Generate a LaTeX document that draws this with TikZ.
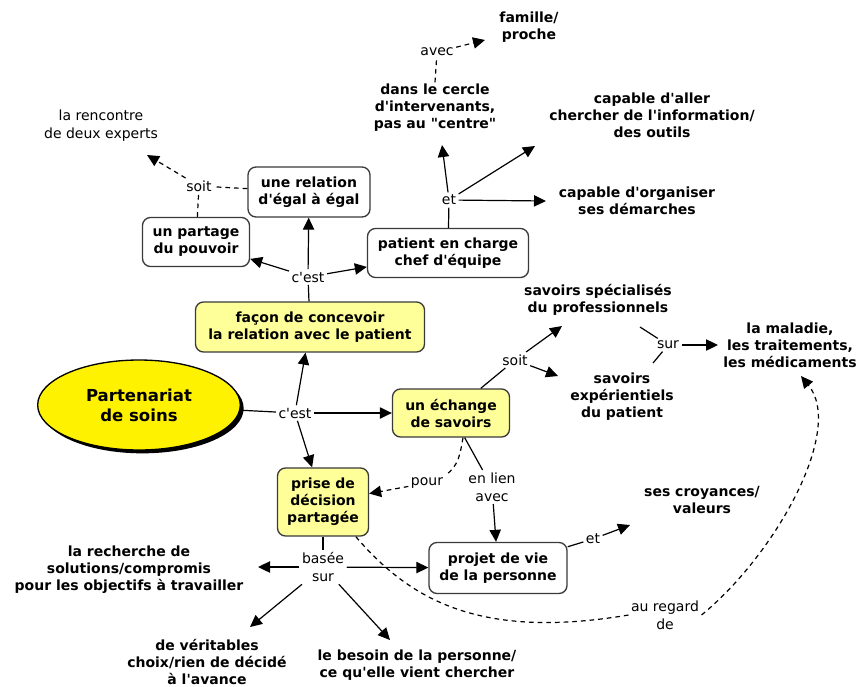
\documentclass[tikz,border=0pt]{standalone}
\usepackage{fontspec}
\setmainfont{DejaVu Sans}[Ligatures=TeXOff]
\usetikzlibrary{arrows.meta,shapes.geometric,shadows}
\definecolor{conceptyellow}{HTML}{FFFF99}
\definecolor{boxline}{HTML}{3A3A3A}
\begin{document}
\begin{tikzpicture}[x=0.75pt,y=-0.75pt,
  line width=0.9pt,
  font=\fontsize{10.5}{12.75}\selectfont,
  arr/.style={-{Triangle[length=9pt,width=8.5pt]}},
  dashlink/.style={dash pattern=on 3.5pt off 3pt},
  boxbase/.style={draw=boxline, line width=1pt, rounded corners=6pt, align=center,
    inner sep=0pt, font=\fontsize{10.5}{12.75}\selectfont\bfseries},
  concept/.style={boxbase, fill=conceptyellow},
  whitebox/.style={boxbase, fill=white},
  txt/.style={align=center, inner sep=1pt, font=\fontsize{10.5}{12.75}\selectfont\bfseries},
  plain/.style={align=center, inner sep=1pt, font=\fontsize{10.5}{13.5}\selectfont},
  lbl/.style={align=center, inner sep=1.5pt, font=\fontsize{10.5}{13.5}\selectfont}]

\fill[white] (0,0) rectangle (859,686);
\useasboundingbox (0,0) rectangle (859,686);

% central concept
\node[ellipse, draw=black, line width=1pt, fill=yellow, minimum width=152pt, minimum height=67.5pt,
  drop shadow={shadow xshift=2.5pt, shadow yshift=-2.5pt, fill=black, opacity=1},
  align=center, font=\fontsize{12.4}{15}\selectfont\bfseries] (ps) at (139,405) {Partenariat\\de soins};

% boxes
\node[concept, minimum width=171.75pt, minimum height=37.5pt] (facon) at (310,327) {façon de concevoir\\la relation avec le patient};
\node[concept, minimum width=87.75pt, minimum height=36pt] (echange) at (451,413) {un échange\\de savoirs};
\node[concept, minimum width=68.25pt, minimum height=51pt] (prise) at (323,502) {prise de\\décision\\partagée};
\node[whitebox, minimum width=91.5pt, minimum height=37.5pt] (egal) at (309,192) {une relation\\d'égal à égal};
\node[whitebox, minimum width=80.25pt, minimum height=36.75pt] (pouvoir) at (196,242) {un partage\\du pouvoir};
\node[whitebox, minimum width=120.75pt, minimum height=36.75pt] (chef) at (448,253) {patient en charge\\chef d'équipe};
\node[whitebox, minimum width=103.5pt, minimum height=38.25pt] (projet) at (498,568) {projet de vie\\de la personne};

% free-standing concepts
\node[txt] (cercle) at (435,108) {dans le cercle\\d'intervenants,\\pas au "centre"};
\node[txt] (famille) at (529,27) {famille/\\proche};
\node[txt] (info) at (652,115) {capable d'aller\\chercher de l'information/\\des outils};
\node[txt] (organiser) at (637,201) {capable d'organiser\\ses démarches};
\node[plain] (experts) at (101,126) {la rencontre\\de deux experts};
\node[txt] (specialises) at (598,300) {savoirs spécialisés\\du professionnels};
\node[txt] (experientiels) at (622,397) {savoirs\\expérientiels\\du patient};
\node[txt] (maladie) at (790,345) {la maladie,\\les traitements,\\les médicaments};
\node[txt] (croyances) at (702,500) {ses croyances/\\valeurs};
\node[txt] (recherche) at (129,570) {la recherche de\\solutions/compromis\\pour les objectifs à travailler};
\node[txt] (choix) at (207,662) {de véritables\\choix/rien de décidé\\à l'avance};
\node[txt] (besoin) at (417,665) {le besoin de la personne/\\ce qu'elle vient chercher};

% linking phrases
\node[lbl] (cest0) at (295,413) {c'est};
\node[lbl] (cest1) at (308,277) {c'est};
\node[lbl] (soit1) at (199,186) {soit};
\node[lbl] (et1) at (449,200) {et};
\node[lbl] (avec1) at (437,52) {avec};
\node[lbl] (soit2) at (515,360) {soit};
\node[lbl] (sur) at (668,345) {sur};
\node[lbl] (pour) at (427,483) {pour};
\node[lbl] (lien) at (492,487) {en lien\\avec};
\node[lbl] (et2) at (593,539) {et};
\node[lbl] (basee) at (323,567) {basée\\sur};
\node[lbl] (regard) at (665,615) {au regard\\de};

% arrow ends near free-standing text
\coordinate (tExperts) at (147,155);
\coordinate (tFamille) at (485,40);
\coordinate (tCercle) at (442,145);
\coordinate (tInfo) at (535,146);
\coordinate (tOrganiser) at (546,201);
\coordinate (tSpec) at (562,326);
\coordinate (tExp) at (558,376);
\coordinate (fSpec) at (640,327);
\coordinate (fExp) at (653,363);
\coordinate (tMaladie) at (718,345);
\coordinate (tCroyances) at (630,525);
\coordinate (tRecherche) at (258,567);
\coordinate (tChoix) at (250,627);
\coordinate (tBesoin) at (390,640);
\coordinate (tMaladieBas) at (801,376);

% connectors
\draw (ps) -- (cest0);
\draw[arr] (cest0) -- (facon);
\draw[arr] (cest0) -- (echange);
\draw[arr] (cest0) -- (prise);

\draw (facon) -- (cest1);
\draw[arr] (cest1) -- (egal);
\draw[arr] (cest1) -- (pouvoir);
\draw[arr] (cest1) -- (chef);

\draw[dashlink] (pouvoir) -- (soit1);
\draw[dashlink] (egal) -- (soit1);
\draw[dashlink, arr] (soit1) -- (tExperts);

\draw (chef) -- (et1);
\draw[arr] (et1) -- (tCercle);
\draw[arr] (et1) -- (tInfo);
\draw[arr] (et1) -- (tOrganiser);

\draw[dashlink] (cercle.north) -- (avec1);
\draw[dashlink, arr] (avec1) -- (tFamille);

\draw (echange) -- (soit2);
\draw[arr] (soit2) -- (tSpec);
\draw[arr] (soit2) -- (tExp);
\draw (fSpec) -- (sur);
\draw (fExp) -- (sur);
\draw[arr] (sur) -- (tMaladie);

\draw[dashlink] ([xshift=9pt]echange.south) to[out=-100, in=35] (pour.north east);
\draw[dashlink, arr] (pour) -- (prise);
\draw (echange) -- (lien);
\draw[arr] (lien) -- (projet);
\draw (projet) -- (et2);
\draw[arr] (et2) -- (tCroyances);

\draw (prise) -- (basee);
\draw[arr] (basee) -- (tRecherche);
\draw[arr] (basee) -- (projet);
\draw[arr] (basee) -- (tChoix);
\draw[arr] (basee) -- (tBesoin);

\draw[dashlink] ([xshift=-10pt]prise.south east) .. controls (410,600) and (480,640) .. (regard.west);
\draw[dashlink, arr] (regard.east) .. controls (775,555) and (845,430) .. (tMaladieBas);
\end{tikzpicture}
\end{document}
